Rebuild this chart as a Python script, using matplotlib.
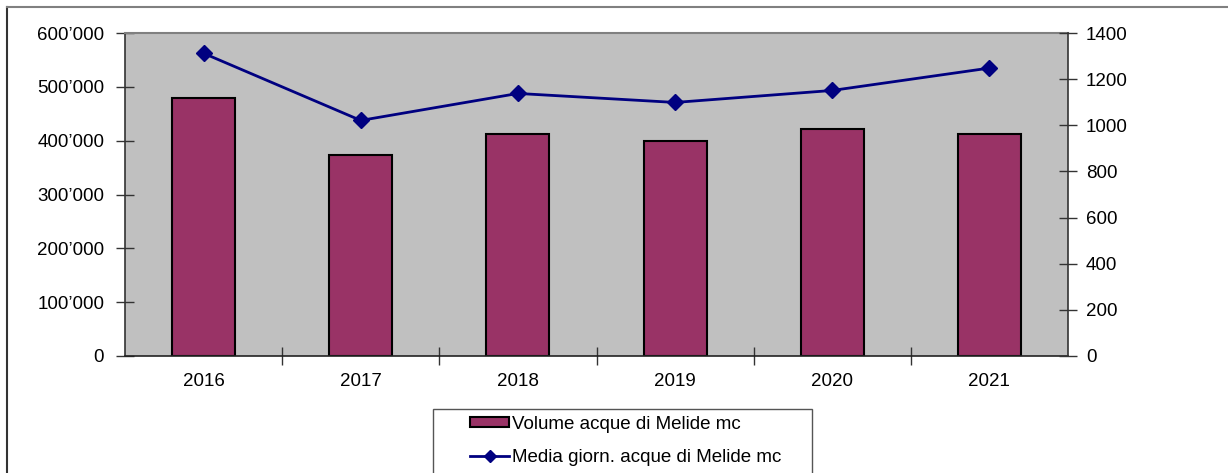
import matplotlib
matplotlib.use("Agg")
import matplotlib.pyplot as plt
from matplotlib.patches import Rectangle
from matplotlib.lines import Line2D
from matplotlib.ticker import FuncFormatter, FixedLocator

years = ["2016", "2017", "2018", "2019", "2020", "2021"]
volume = [479500, 373500, 412500, 399500, 421500, 412500]
daily_avg = [1312, 1021, 1138, 1099, 1151, 1248]
left_ticks = [0, 100000, 200000, 300000, 400000, 500000, 600000]
right_ticks = [0, 200, 400, 600, 800, 1000, 1200, 1400]
legend_labels = ["Volume acque di Melide mc", "Media giorn. acque di Melide mc"]

plt.rcParams['font.family'] = ['Liberation Sans', 'DejaVu Sans']

W, H = 1228, 473
fig = plt.figure(figsize=(W / 100, H / 100), dpi=100)
fig.patch.set_facecolor('white')

ax = fig.add_axes([125 / W, 1 - 356 / H, (1068 - 125) / W, (356 - 33) / H])
ax.set_facecolor('#C0C0C0')

x = list(range(len(years)))
ax.bar(x, volume, width=0.4, color='#993366', edgecolor='black', linewidth=1.5, zorder=2)
ax.set_xlim(-0.5, len(years) - 0.5)
ax.set_ylim(0, 600000)
ax.yaxis.set_major_locator(FixedLocator(left_ticks))
ax.yaxis.set_major_formatter(FuncFormatter(lambda v, p: f"{int(v):,}".replace(",", "\u2019")))
ax.set_xticks(x)
ax.set_xticklabels(years)
ax.xaxis.set_minor_locator(FixedLocator([i + 0.5 for i in range(len(years) - 1)]))
ax.tick_params(axis='x', which='major', length=0, pad=12, labelsize=13.5)
ax.tick_params(axis='x', which='minor', direction='inout', length=13, width=1, color='#333333')
ax.tick_params(axis='y', direction='inout', length=13, width=1, color='#333333', labelsize=13.5, pad=8.5)

ax.spines['top'].set_color('#808080')
ax.spines['top'].set_linewidth(1.5)
ax.spines['left'].set_color('#333333')
ax.spines['left'].set_linewidth(1.2)
ax.spines['bottom'].set_color('#222222')
ax.spines['bottom'].set_linewidth(1.2)
ax.spines['right'].set_visible(False)

ax2 = ax.twinx()
ax2.plot(x, daily_avg, color='#000080', linewidth=2, marker='D', markersize=8,
         markerfacecolor='#000080', markeredgecolor='#000080', zorder=3)
ax2.set_ylim(0, 1400)
ax2.yaxis.set_major_locator(FixedLocator(right_ticks))
ax2.tick_params(axis='y', direction='inout', length=13, width=1, color='#333333', labelsize=13.5, pad=6.5)
ax2.spines['right'].set_color('#333333')
ax2.spines['right'].set_linewidth(1.2)
for s in ['top', 'left', 'bottom']:
    ax2.spines[s].set_visible(False)

# outer chart border (top and left visible)
fig.add_artist(Line2D([7 / W, 7 / W], [0, 1 - 7 / H], transform=fig.transFigure,
                      color='#333333', linewidth=1.5))
fig.add_artist(Line2D([7 / W, 1], [1 - 7 / H, 1 - 7 / H], transform=fig.transFigure,
                      color='#808080', linewidth=1.5))

# legend frame
fig.add_artist(Rectangle((433 / W, -0.1), (812 - 433) / W, (1 - 409 / H) + 0.1,
                         transform=fig.transFigure, facecolor='white',
                         edgecolor='#555555', linewidth=1))
handles = [Rectangle((0, 0), 1, 1, facecolor='#993366', edgecolor='black', linewidth=1.5),
           Line2D([], [], color='#000080', linewidth=2, marker='D', markersize=6)]
fig.legend(handles, legend_labels, loc='upper left',
           bbox_to_anchor=(470 / W, 1 - 416 / H), frameon=False, fontsize=13.5,
           handlelength=2.1, handleheight=0.45, handletextpad=0.15, labelspacing=0.85,
           borderpad=0, borderaxespad=0)

fig.savefig('out.png', dpi=100)
